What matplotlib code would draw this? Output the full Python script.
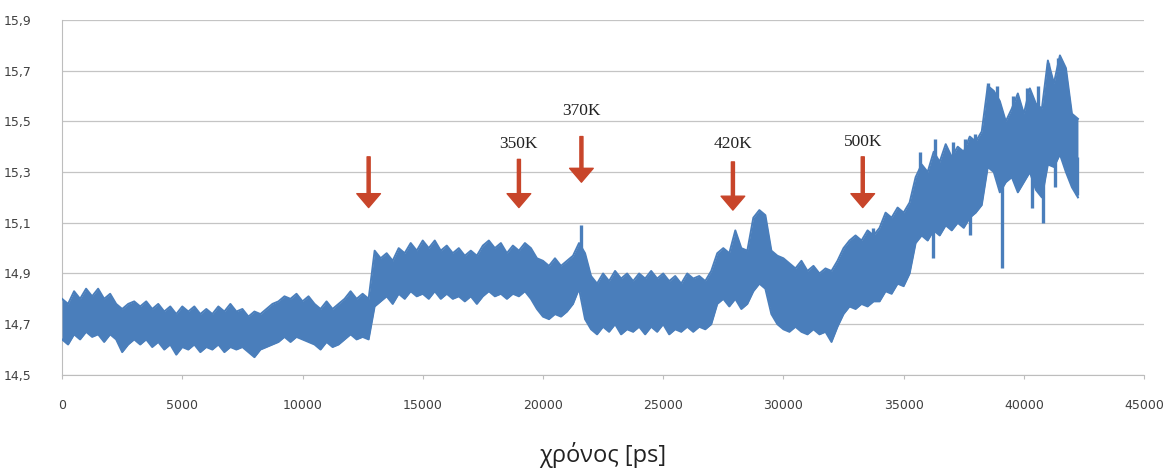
import matplotlib
matplotlib.use('Agg')
import matplotlib.pyplot as plt
from matplotlib.ticker import FuncFormatter
import numpy as np

# ── data (envelope of the noisy trace, every 250 ps) ──
t_ps = list(range(0, 42251, 250))

upper = [
    14.80, 14.78, 14.83, 14.80, 14.84, 14.81, 14.84, 14.80, 14.82, 14.78,   # 0-2250
    14.76, 14.78, 14.79, 14.77, 14.79, 14.76, 14.78, 14.75, 14.77, 14.74,   # 2500-4750
    14.77, 14.75, 14.77, 14.74, 14.76, 14.74, 14.77, 14.75, 14.78, 14.75,   # 5000-7250
    14.76, 14.73, 14.75, 14.74, 14.76, 14.78, 14.79, 14.81, 14.80, 14.82,   # 7500-9750
    14.79, 14.81, 14.78, 14.76, 14.79, 14.76, 14.78, 14.80, 14.83, 14.80,   # 10000-12250
    14.82, 14.80, 14.99, 14.96, 14.98, 14.95, 15.00, 14.98, 15.02, 14.99,   # 12500-14750
    15.03, 15.00, 15.03, 14.99, 15.01, 14.98, 15.00, 14.97, 14.99, 14.97,   # 15000-17250
    15.01, 15.03, 15.00, 15.02, 14.98, 15.01, 14.99, 15.02, 15.00, 14.96,   # 17500-19750
    14.95, 14.93, 14.96, 14.93, 14.95, 14.97, 15.02, 14.98, 14.89, 14.86,   # 20000-22250
    14.90, 14.87, 14.91, 14.88, 14.90, 14.87, 14.90, 14.88, 14.91, 14.88,   # 22500-24750
    14.90, 14.87, 14.89, 14.86, 14.90, 14.88, 14.89, 14.87, 14.91, 14.98,   # 25000-27250
    15.00, 14.98, 15.07, 15.00, 14.99, 15.12, 15.15, 15.13, 14.99, 14.97,   # 27500-29750
    14.96, 14.94, 14.92, 14.95, 14.91, 14.93, 14.90, 14.92, 14.91, 14.95,   # 30000-32250
    15.00, 15.03, 15.05, 15.03, 15.07, 15.05, 15.08, 15.14, 15.12, 15.16,   # 32500-34750
    15.14, 15.18, 15.28, 15.33, 15.30, 15.38, 15.34, 15.41, 15.36, 15.40,   # 35000-37250
    15.38, 15.44, 15.42, 15.46, 15.64, 15.62, 15.58, 15.50, 15.55, 15.61,   # 37500-39750
    15.53, 15.63, 15.57, 15.55, 15.74, 15.65, 15.76, 15.71, 15.53, 15.51,   # 40000-42250
]

lower = [
    14.64, 14.62, 14.66, 14.64, 14.67, 14.65, 14.66, 14.63, 14.66, 14.64,
    14.59, 14.62, 14.64, 14.62, 14.64, 14.61, 14.63, 14.60, 14.62, 14.58,
    14.61, 14.60, 14.62, 14.59, 14.61, 14.60, 14.62, 14.59, 14.61, 14.60,
    14.61, 14.59, 14.57, 14.60, 14.61, 14.62, 14.63, 14.65, 14.63, 14.65,
    14.64, 14.63, 14.62, 14.60, 14.63, 14.61, 14.62, 14.64, 14.66, 14.64,
    14.65, 14.64, 14.77, 14.79, 14.81, 14.78, 14.82, 14.80, 14.83, 14.81,
    14.82, 14.80, 14.83, 14.80, 14.82, 14.80, 14.81, 14.79, 14.81, 14.78,
    14.81, 14.83, 14.81, 14.82, 14.80, 14.82, 14.81, 14.83, 14.80, 14.76,
    14.73, 14.72, 14.74, 14.73, 14.75, 14.78, 14.84, 14.72, 14.68, 14.66,
    14.69, 14.67, 14.70, 14.66, 14.68, 14.67, 14.69, 14.66, 14.69, 14.67,
    14.70, 14.66, 14.68, 14.67, 14.69, 14.67, 14.69, 14.68, 14.70, 14.78,
    14.80, 14.77, 14.80, 14.76, 14.78, 14.83, 14.86, 14.84, 14.74, 14.70,
    14.68, 14.67, 14.69, 14.67, 14.66, 14.68, 14.66, 14.67, 14.63, 14.69,
    14.74, 14.77, 14.76, 14.78, 14.77, 14.79, 14.79, 14.83, 14.82, 14.86,
    14.85, 14.90, 15.02, 15.05, 15.03, 15.07, 15.05, 15.09, 15.07, 15.10,
    15.08, 15.12, 15.14, 15.17, 15.32, 15.30, 15.22, 15.26, 15.28, 15.22,
    15.26, 15.30, 15.23, 15.20, 15.33, 15.32, 15.37, 15.30, 15.24, 15.20,
]

# thin single-sample excursions above the band
up_t = [21600, 33740, 35690, 36310, 37060, 37560, 37980, 38520, 38890,
        39560, 40140, 40600, 41020, 41430]
up_val = [15.09, 15.08, 15.38, 15.43, 15.42, 15.43, 15.45, 15.65, 15.64,
          15.60, 15.63, 15.64, 15.73, 15.75]

# thin single-sample excursions below the band
down_t = [21800, 36230, 37770, 39100, 40350, 40810, 41310, 42220]
down_val = [14.72, 14.96, 15.05, 14.92, 15.16, 15.10, 15.24, 15.21]

# temperature markers
arrow_t = [12750, 19000, 21600, 27900, 33300]
arrow_top = [15.36, 15.35, 15.44, 15.34, 15.36]
arrow_tip = [15.16, 15.16, 15.26, 15.15, 15.16]
arrow_lbl = ['', '350K', '370K', '420K', '500K']
lbl_y = [15.42, 15.41, 15.54, 15.41, 15.42]

yticks = [14.5, 14.7, 14.9, 15.1, 15.3, 15.5, 15.7, 15.9]
xticks = [0, 5000, 10000, 15000, 20000, 25000, 30000, 35000, 40000, 45000]

BLUE = '#4a7ebb'
RED = '#c8452a'
GRID = '#c4c4c4'
TICK = '#404040'

fig = plt.figure(figsize=(11.71, 4.74), dpi=100)
ax = fig.add_axes([0.053, 0.209, 0.924, 0.749])

ax.fill_between(t_ps, lower, upper, color=BLUE, lw=0, zorder=3)
ax.plot(t_ps, upper, color=BLUE, lw=1.4, zorder=3)
ax.plot(t_ps, lower, color=BLUE, lw=1.4, zorder=3)

# spikes start from the middle of the band
mid = (np.array(upper) + np.array(lower)) / 2
ax.vlines(up_t, np.interp(up_t, t_ps, mid), up_val, color=BLUE, lw=2.4, zorder=3)
ax.vlines(down_t, down_val, np.interp(down_t, t_ps, mid), color=BLUE, lw=2.4, zorder=3)

for xt, yt, yb, lb, ly in zip(arrow_t, arrow_top, arrow_tip, arrow_lbl, lbl_y):
    ax.annotate('', xy=(xt, yb), xytext=(xt, yt),
                arrowprops=dict(facecolor=RED, edgecolor=RED, width=2.2,
                                headwidth=17, headlength=10, shrink=0),
                zorder=5)
    if lb:
        ax.text(xt, ly, lb, ha='center', va='center', fontsize=12.5,
                family='Liberation Serif', color='#222222', zorder=6)

ax.set_xlim(0, 45000)
ax.set_ylim(14.5, 15.9)
ax.set_yticks(yticks)
ax.set_xticks(xticks)
ax.yaxis.set_major_formatter(FuncFormatter(lambda v, p: f'{v:.1f}'.replace('.', ',')))
ax.xaxis.set_major_formatter(FuncFormatter(lambda v, p: f'{int(v)}'))
ax.grid(axis='y', color=GRID, lw=0.9, zorder=0)
ax.set_axisbelow(True)

for s in ['top', 'right']:
    ax.spines[s].set_visible(False)
ax.spines['left'].set_color('#bdbdbd')
ax.spines['bottom'].set_color('#bdbdbd')
ax.tick_params(axis='y', length=0, pad=22, labelsize=9, labelcolor=TICK)
ax.tick_params(axis='x', length=3, color='#bdbdbd', pad=14, labelsize=9, labelcolor=TICK)

fig.text(0.515, 0.04, 'χρόνος [ps]', ha='center', va='center', fontsize=17,
         family='Open Sans', color='#222222')

fig.savefig('out.png', dpi=100, facecolor='white')
